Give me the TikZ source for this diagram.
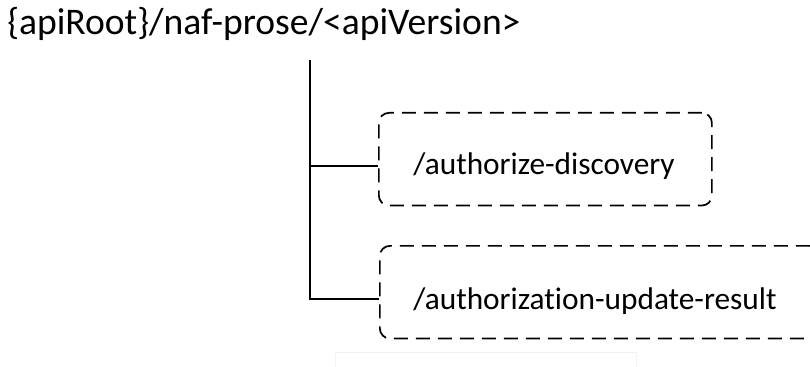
\documentclass[tikz,border=0pt]{standalone}
\usepackage{fontspec}
\setmainfont{Carlito}[Ligatures={NoCommon}]
\begin{document}
\begin{tikzpicture}[x=0.75pt,y=-0.75pt,
  titletext/.style={inner sep=0pt,anchor=base west,font=\fontsize{28.2}{34}\selectfont},
  boxtext/.style={inner sep=0pt,anchor=base west,font=\fontsize{23.5}{28}\selectfont},
  resbox/.style={draw,line width=1.3pt,dash pattern=on 10.5pt off 6pt,rounded corners=7.5pt,
    anchor=north west,inner sep=0pt,minimum height=69.5pt},
  tree/.style={line width=1.3pt}]
\useasboundingbox (0,0) rectangle (810,367);
\clip (0,0) rectangle (810,367);
\node[titletext] (root) at (7,35) {\{apiRoot\}/naf-prose/<apiVersion>};
\coordinate (trunk) at (310,60);
\node[resbox,minimum width=249.75pt] (box1) at (378,112) {};
\node[resbox,minimum width=330pt] (box2) at (379,245) {};
\node[boxtext] (t1) at (413,175) {/authorize-discovery};
\node[boxtext] (t2) at (413,309) {/authorization-update-result};
\coordinate (c1) at (378,166);
\coordinate (c2) at (379,299);
\draw[tree] (trunk) -- (trunk |- c2) -- (c2);
\draw[tree] (trunk |- c1) -- (c1);
\node[draw=gray!10,line width=0.6pt,anchor=north west,minimum width=226pt,minimum height=30pt,inner sep=0pt] (ghost) at (335,352) {};
\end{tikzpicture}
\end{document}
